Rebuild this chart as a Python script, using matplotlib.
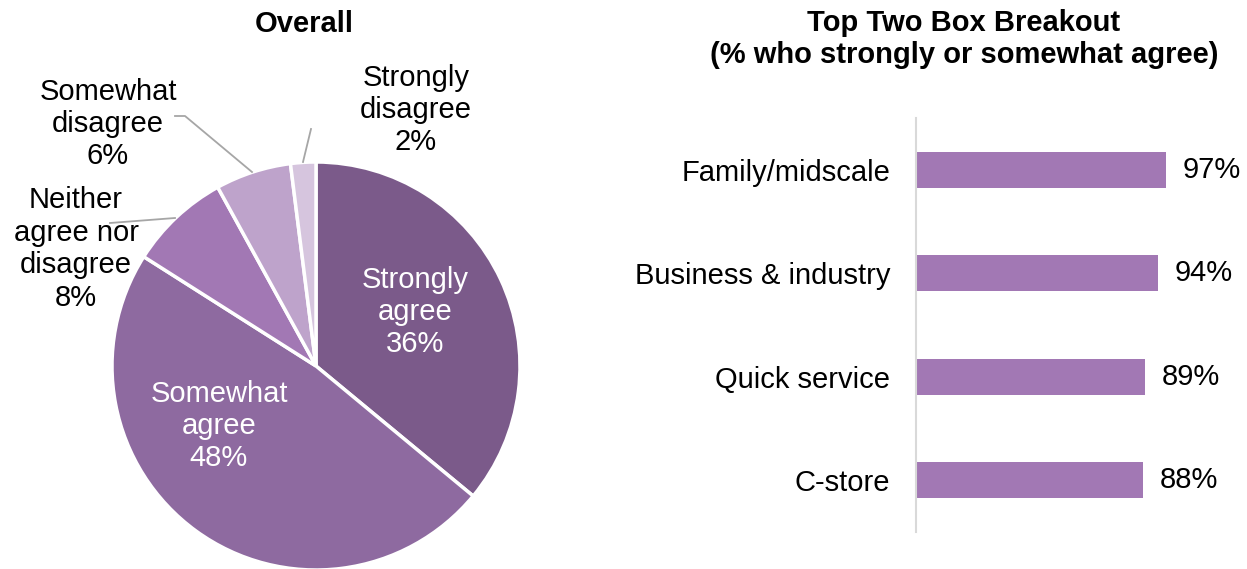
import matplotlib.pyplot as plt

plt.rcParams['font.family'] = ['Liberation Sans', 'DejaVu Sans']

# pie data (clockwise from 12 o'clock)
pie_labels = ['Strongly\nagree', 'Somewhat\nagree', 'Neither\nagree nor\ndisagree',
              'Somewhat\ndisagree', 'Strongly\ndisagree']
pie_values = [36, 48, 8, 6, 2]
pie_colors = ['#7b5a8a', '#8e6aa0', '#a278b4', '#bea3cb', '#d6c5de']

# bar data
bar_cats = ['Family/midscale', 'Business & industry', 'Quick service', 'C-store']
bar_values = [97, 94, 89, 88]

W, H = 1247, 569
FS = 21
LS = 1.2
fig = plt.figure(figsize=(W / 100, H / 100), dpi=100)

# ---- pie ----
cx, cy, r = 316, 366, 204
ax = fig.add_axes([(cx - r) / W, (H - cy - r) / H, 2 * r / W, 2 * r / H])
ax.pie(pie_values, colors=pie_colors, startangle=90, counterclock=False,
       wedgeprops=dict(edgecolor='white', linewidth=2.5), radius=1)
ax.set_xlim(-1, 1)
ax.set_ylim(-1, 1)
ax.set_aspect('equal')
ax.axis('off')


def px(x, y):
    return ((x - cx) / r, (cy - y) / r)


txt = [l + '\n' + f'{v}%' for l, v in zip(pie_labels, pie_values)]
# inside labels
ax.text(*px(415, 312), txt[0], color='white', ha='center', va='center',
        fontsize=FS, linespacing=LS)
ax.text(*px(219, 426), txt[1], color='white', ha='center', va='center',
        fontsize=FS, linespacing=LS)
# outside labels
ax.text(*px(76, 249), txt[2], color='black', ha='center', va='center',
        fontsize=FS, linespacing=LS, clip_on=False)
ax.text(*px(108, 124), txt[3], color='black', ha='center', va='center',
        fontsize=FS, linespacing=LS, clip_on=False)
ax.text(*px(416, 110), txt[4], color='black', ha='center', va='center',
        fontsize=FS, linespacing=LS, clip_on=False)

# leader lines
lc = '#a6a6a6'
for pts in [[(110, 223), (175, 218)],
            [(175, 116), (185, 116), (252, 172)],
            [(311, 129), (303, 162)]]:
    xs, ys = zip(*[px(*p) for p in pts])
    ax.plot(xs, ys, color=lc, lw=1.3, clip_on=False)

fig.text(304 / W, 1 - 24 / H, 'Overall', ha='center', va='center',
         fontsize=FS, fontweight='bold')

# ---- bars ----
left, right, top, bottom = 916, 1247, 118, 532
ax2 = fig.add_axes([left / W, (H - bottom) / H, (right - left) / W, (bottom - top) / H])
ypos = list(range(len(bar_cats)))
ax2.barh(ypos, bar_values, height=0.35, color='#a278b4')
ax2.set_ylim(len(bar_cats) - 0.5, -0.5)
ax2.set_xlim(0, (right - left) / 2.577)
ax2.set_yticks(ypos)
ax2.set_yticklabels(bar_cats, fontsize=FS)
ax2.tick_params(axis='y', length=0, pad=18.5)
ax2.set_xticks([])
for s in ['top', 'right', 'bottom']:
    ax2.spines[s].set_visible(False)
ax2.spines['left'].set_color('#d9d9d9')
ax2.spines['left'].set_linewidth(1.5)
for y, v in zip(ypos, bar_values):
    ax2.text(v + 6.5, y, f'{v}%', va='center', ha='left', fontsize=FS)

fig.text(964 / W, 1 - 39 / H, 'Top Two Box Breakout\n(% who strongly or somewhat agree)',
         ha='center', va='center', fontsize=FS, fontweight='bold', linespacing=1.15)

fig.savefig('out.png', dpi=100, facecolor='white')
